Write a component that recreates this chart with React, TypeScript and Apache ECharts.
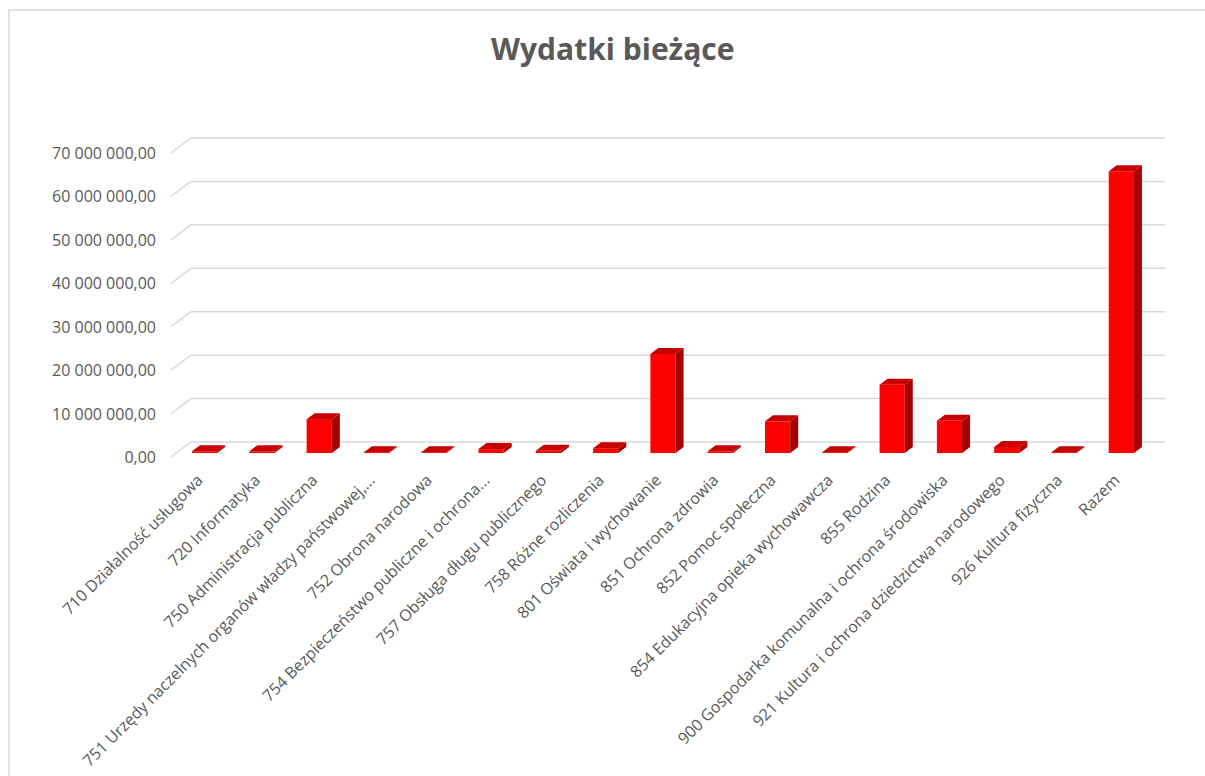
import React, { useEffect, useRef } from "react";
import * as echarts from "echarts";

const titleText = "Wydatki bieżące";

const categories = [
  "710 Działalność usługowa",
  "720 Informatyka",
  "750 Administracja publiczna",
  "751 Urzędy naczelnych organów władzy państwowej,...",
  "752 Obrona narodowa",
  "754 Bezpieczeństwo publiczne i ochrona...",
  "757 Obsługa długu publicznego",
  "758 Różne rozliczenia",
  "801 Oświata i wychowanie",
  "851 Ochrona zdrowia",
  "852 Pomoc społeczna",
  "854 Edukacyjna opieka wychowawcza",
  "855 Rodzina",
  "900 Gospodarka komunalna i ochrona środowiska",
  "921 Kultura i ochrona dziedzictwa narodowego",
  "926 Kultura fizyczna",
  "Razem",
];

const values = [
  400000, 400000, 7800000, 200000, 200000, 900000, 500000, 1100000,
  22800000, 400000, 7300000, 200000, 15700000, 7400000, 1400000, 200000,
  64900000,
];

const yTicks = [0, 10000000, 20000000, 30000000, 40000000, 50000000, 60000000, 70000000];
const yMin = 0;
const yMax = 70000000;
const yInterval = 10000000;

function fmt(v: number): string {
  const [intPart, dec] = v.toFixed(2).split(".");
  const withSpaces = intPart.replace(/\B(?=(\d{3})+(?!\d))/g, " ");
  return withSpaces + "," + dec;
}

const FONT = "'Open Sans', 'Noto Sans', sans-serif";
const TEXT = "#595959";
const GRID = "#D9D9D9";

// 3D offsets (pixels)
const BACK_DX = 20;
const BACK_DY = -15;
const BAR_DX = 5;
const BAR_DY = -4;
const DEPTH_DX = 8;
const DEPTH_DY = -6;

export default function App() {
  const ref = useRef<HTMLDivElement>(null);

  useEffect(() => {
    if (!ref.current) return;
    const chart = echarts.init(ref.current, null, { renderer: "svg" });

    const option: any = {
      animation: false,
      backgroundColor: "#ffffff",
      title: {
        text: titleText,
        left: 486,
        top: 28,
        textStyle: {
          fontFamily: FONT,
          fontSize: 30,
          fontWeight: "bold",
          color: TEXT,
        },
      },
      graphic: [
        {
          type: "rect",
          shape: { x: 9, y: 10, width: 1210, height: 800 },
          style: { fill: "none", stroke: GRID, lineWidth: 1.5 },
          silent: true,
        },
      ],
      grid: {
        left: 171,
        top: 153,
        width: 974,
        height: 304,
        containLabel: false,
      },
      xAxis: {
        type: "category",
        data: categories,
        axisLine: { show: false },
        axisTick: { show: false },
        splitLine: { show: false },
        axisLabel: {
          interval: 0,
          rotate: 45,
          margin: 20,
          fontFamily: FONT,
          fontSize: 16,
          color: TEXT,
        },
      },
      yAxis: {
        type: "value",
        min: yMin,
        max: yMax,
        interval: yInterval,
        axisLine: { show: false },
        axisTick: { show: false },
        splitLine: { show: false },
        axisLabel: {
          margin: 15,
          fontFamily: FONT,
          fontSize: 16,
          color: TEXT,
          formatter: (v: number) => fmt(v),
        },
      },
      series: [
        {
          type: "custom",
          name: "grid3d",
          silent: true,
          z: 1,
          data: yTicks.map((v) => [0, v]),
          encode: { x: 0, y: 1 },
          renderItem: (params: any, api: any) => {
            const cs = params.coordSys;
            const y = api.coord([0, api.value(1)])[1];
            const style = { stroke: GRID, lineWidth: 1.5 };
            return {
              type: "group",
              children: [
                {
                  type: "line",
                  shape: { x1: cs.x, y1: y, x2: cs.x + BACK_DX, y2: y + BACK_DY },
                  style,
                },
                {
                  type: "line",
                  shape: {
                    x1: cs.x + BACK_DX,
                    y1: y + BACK_DY,
                    x2: cs.x + cs.width + BACK_DX,
                    y2: y + BACK_DY,
                  },
                  style,
                },
              ],
            };
          },
        },
        {
          type: "custom",
          name: "Wydatki bieżące",
          z: 2,
          data: values.map((v, i) => [i, v]),
          encode: { x: 0, y: 1 },
          renderItem: (params: any, api: any) => {
            const top = api.coord([api.value(0), api.value(1)]);
            const base = api.coord([api.value(0), 0]);
            const band = api.size([1, 0])[0];
            const w = band * 0.44;
            const cx = top[0] + BAR_DX;
            const yTop = top[1] + BAR_DY;
            const yBase = base[1] + BAR_DY;
            const x0 = cx - w / 2;
            const x1 = cx + w / 2;
            return {
              type: "group",
              children: [
                {
                  type: "rect",
                  shape: { x: x0, y: yTop, width: w, height: yBase - yTop },
                  style: { fill: "#FF0000" },
                },
                {
                  type: "polygon",
                  shape: {
                    points: [
                      [x1, yTop],
                      [x1 + DEPTH_DX, yTop + DEPTH_DY],
                      [x1 + DEPTH_DX, yBase + DEPTH_DY],
                      [x1, yBase],
                    ],
                  },
                  style: { fill: "#A80000" },
                },
                {
                  type: "polygon",
                  shape: {
                    points: [
                      [x0, yTop],
                      [x1, yTop],
                      [x1 + DEPTH_DX, yTop + DEPTH_DY],
                      [x0 + DEPTH_DX, yTop + DEPTH_DY],
                    ],
                  },
                  style: { fill: "#C80000" },
                },
              ],
            };
          },
        },
      ],
    };

    chart.setOption(option);
    return () => chart.dispose();
  }, []);

  return (
    <div
      ref={ref}
      style={{ position: "fixed", left: 0, top: 0, width: 1205, height: 776, background: "#fff" }}
    />
  );
}
